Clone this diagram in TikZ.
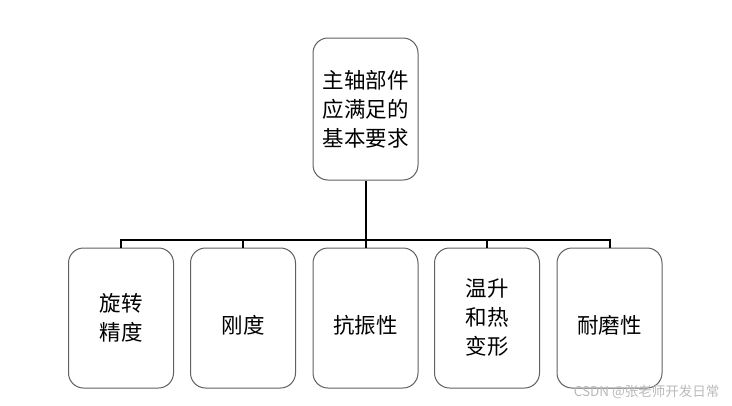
\documentclass[tikz,border=0pt]{standalone}
\usepackage{fontspec}
\setmainfont{Noto Sans CJK SC}
\tikzset{
  box/.style={draw=gray!75!black, line width=1pt, rounded corners=15pt, fill=white,
    minimum width=105pt, minimum height=140pt, align=center,
    font=\fontsize{21.5}{29}\selectfont,
    execute at begin node={\rule{0pt}{33pt}}},
  bar/.style={line width=2pt, black}
}
\begin{document}
\begin{tikzpicture}[x=1pt,y=-1pt]
\useasboundingbox (0,0) rectangle (732,405);
\node[box, minimum height=142pt] (top) at (365.5,109) {主轴部件\\应满足的\\基本要求};
\foreach \n/\x/\t in {a/121/{旋转\\精度}, b/243/{刚度}, c/365.5/{抗振性}, d/487/{温升\\和热\\变形}, e/609.5/{耐磨性}}
    \node[box] (\n) at (\x,318) {\t};
\coordinate (bus) at (365.5,240);
\draw[bar] (top.south) -- (bus);
\draw[bar] (a.north) |- (bus) -| (e.north);
\foreach \n in {b,c,d}
    \draw[bar] (\n.north) -- (\n.north |- bus);
\node[anchor=east, text=gray!55, font=\fontsize{13.5}{15}\selectfont] (mark) at (723,392) {CSDN @张老师开发日常};
\end{tikzpicture}
\end{document}
